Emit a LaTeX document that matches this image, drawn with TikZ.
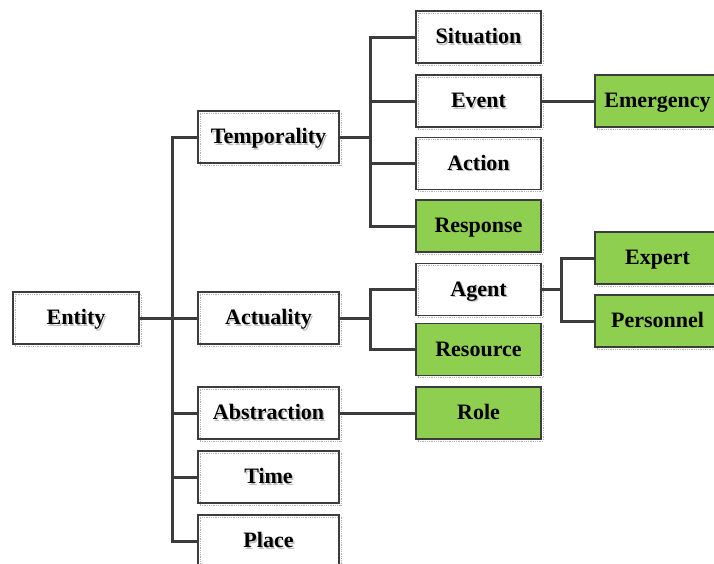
\documentclass[tikz,border=0pt]{standalone}
\usepackage{fontspec}
\setmainfont{Liberation Serif}
\usetikzlibrary{shadows}
\definecolor{boxgreen}{HTML}{8FCF4F}
\definecolor{linegray}{HTML}{3C3C3C}
\newcommand\shtx[1]{\makebox[0pt][l]{\hspace{1.5pt}\raisebox{-1.5pt}{\color{gray!50}#1}}#1}
\tikzset{
  box/.style={draw=linegray, line width=1.4pt, minimum height=52pt, inner sep=0pt,
    text height=17pt, text depth=4pt,
    font=\fontsize{22}{25}\selectfont\bfseries,
    general shadow={shadow xshift=2pt, shadow yshift=-2pt, fill=none, draw=gray!60, densely dotted, line width=0.8pt}},
  wbox/.style={box},
  gbox/.style={box, fill=boxgreen},
  c1/.style={minimum width=126pt},
  c2/.style={minimum width=141pt},
  c3/.style={minimum width=125pt},
  c4/.style={minimum width=125pt},
  connline/.style={draw=linegray, line width=3pt}
}
\begin{document}
\begin{tikzpicture}[x=1pt,y=-1pt]
\useasboundingbox (0,0) rectangle (714,563);
\node[wbox,c1] (entity) at (76,318) {\shtx{Entity}};
\node[wbox,c2] (temp) at (268.5,137) {\shtx{Temporality}};
\node[wbox,c2] (actu) at (268.5,318) {\shtx{Actuality}};
\node[wbox,c2] (abst) at (268.5,413) {\shtx{Abstraction}};
\node[wbox,c2] (time) at (268.5,477) {\shtx{Time}};
\node[wbox,c2] (place) at (268.5,541) {\shtx{Place}};
\node[wbox,c3] (situ) at (478.5,37) {\shtx{Situation}};
\node[wbox,c3] (event) at (478.5,101) {\shtx{Event}};
\node[wbox,c3] (action) at (478.5,163.5) {\shtx{Action}};
\node[gbox,c3] (resp) at (478.5,226) {Response};
\node[wbox,c3] (agent) at (478.5,289.5) {\shtx{Agent}};
\node[gbox,c3] (reso) at (478.5,349.5) {Resource};
\node[gbox,c3] (role) at (478.5,413) {Role};
\node[gbox,c4] (emer) at (657.5,101) {Emergency};
\node[gbox,c4] (expert) at (657.5,258) {Expert};
\node[gbox,c4] (pers) at (657.5,321) {Personnel};
\coordinate (j1) at (172,318);
\coordinate (j2) at (370,137);
\coordinate (j3) at (370,318);
\coordinate (j4) at (561,289.5);
\draw[connline] (entity.east) -- (actu.west);
\draw[connline] (temp.west) -| (j1);
\draw[connline] (abst.west) -| (j1);
\draw[connline] (time.west) -| (j1);
\draw[connline] (place.west) -| (j1);
\draw[connline] (temp.east) -- (j2);
\draw[connline] (situ.west) -| (j2);
\draw[connline] (event.west) -| (j2);
\draw[connline] (action.west) -| (j2);
\draw[connline] (resp.west) -| (j2);
\draw[connline] (actu.east) -- (j3);
\draw[connline] (agent.west) -| (j3);
\draw[connline] (reso.west) -| (j3);
\draw[connline] (abst.east) -- (role.west);
\draw[connline] (event.east) -- (emer.west);
\draw[connline] (agent.east) -- (j4);
\draw[connline] (expert.west) -| (j4);
\draw[connline] (pers.west) -| (j4);
\end{tikzpicture}
\end{document}
